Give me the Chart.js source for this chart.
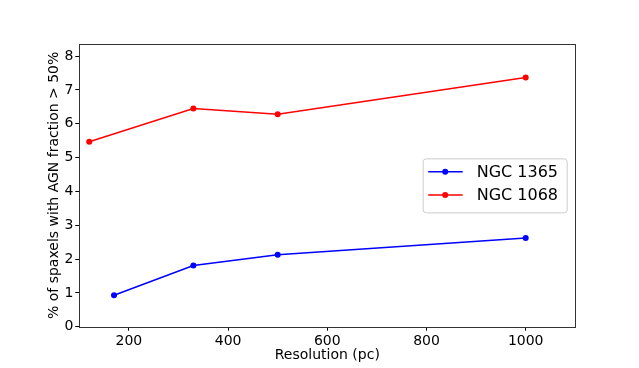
<!DOCTYPE html>
<html lang="en">
<head>
  <meta charset="UTF-8">
  <title>AGN fraction vs resolution</title>
  <script src="https://cdn.jsdelivr.net/npm/chart.js"></script>
  <style>
    html, body { margin: 0; padding: 0; background: #fff; }
    #wrap { width: 639px; height: 368px; }
  </style>
</head>
<body>
  <div id="wrap"><canvas id="chart" width="639" height="368"></canvas></div>

  <script>
    // data
    const ngc1365Res = [170, 330, 500, 1000];
    const ngc1365Pct = [0.93, 1.81, 2.13, 2.62];
    const ngc1068Res = [120, 330, 500, 1000];
    const ngc1068Pct = [5.47, 6.45, 6.28, 7.37];

    const xTicks = [200, 400, 600, 800, 1000];
    const yTicks = [0, 1, 2, 3, 4, 5, 6, 7, 8];

    const FONT = "'DejaVu Sans', sans-serif";

    function toPoints(xs, ys) {
      return xs.map((x, i) => ({ x: x, y: ys[i] }));
    }

    // frame around the plot area + matplotlib style legend at center right
    const framePlugin = {
      id: "frame",
      afterDatasetsDraw(chart) {
        const { ctx, chartArea: a } = chart;
        ctx.save();
        ctx.strokeStyle = "#333";
        ctx.lineWidth = 1;
        ctx.strokeRect(Math.round(a.left) + 0.5, Math.round(a.top) + 0.5,
          Math.round(a.right - a.left), Math.round(a.bottom - a.top));

        // legend
        const sets = chart.data.datasets;
        const w = 144, h = 54;
        const x0 = a.right - 8.6 - w;
        const y0 = (a.top + a.bottom) / 2 - h / 2;
        ctx.fillStyle = "rgba(255,255,255,0.8)";
        ctx.strokeStyle = "#cccccc";
        ctx.beginPath();
        ctx.roundRect(x0 + 0.5, y0 + 0.5, w, h, 3);
        ctx.fill();
        ctx.stroke();
        ctx.font = "16px " + FONT;
        ctx.textBaseline = "middle";
        sets.forEach((ds, i) => {
          const cy = y0 + 13.4 + i * 23.3;
          ctx.strokeStyle = ds.borderColor;
          ctx.lineWidth = 1.5;
          ctx.beginPath();
          ctx.moveTo(x0 + 5.5, cy);
          ctx.lineTo(x0 + 40, cy);
          ctx.stroke();
          ctx.fillStyle = ds.borderColor;
          ctx.beginPath();
          ctx.arc(x0 + 22.5, cy, 3, 0, Math.PI * 2);
          ctx.fill();
          ctx.fillStyle = "#000";
          ctx.fillText(ds.label, x0 + 54, cy + 1);
        });
        ctx.restore();
      }
    };

    new Chart(document.getElementById("chart"), {
      type: "line",
      data: {
        datasets: [
          {
            label: "NGC 1365",
            data: toPoints(ngc1365Res, ngc1365Pct),
            borderColor: "#0000ff",
            backgroundColor: "#0000ff",
            borderWidth: 1.5,
            pointRadius: 3,
            pointBorderWidth: 0,
            tension: 0
          },
          {
            label: "NGC 1068",
            data: toPoints(ngc1068Res, ngc1068Pct),
            borderColor: "#ff0000",
            backgroundColor: "#ff0000",
            borderWidth: 1.5,
            pointRadius: 3,
            pointBorderWidth: 0,
            tension: 0
          }
        ]
      },
      options: {
        responsive: false,
        animation: false,
        layout: { padding: { left: 0, right: 63.7, top: 44, bottom: 0 } },
        plugins: {
          legend: { display: false },
          tooltip: { enabled: false }
        },
        scales: {
          x: {
            type: "linear",
            min: 100,
            max: 1100,
            afterBuildTicks: (s) => { s.ticks = xTicks.map(v => ({ value: v })); },
            afterFit: (s) => { s.height = 41.3; },
            grid: { drawOnChartArea: false, drawTicks: true, tickLength: 4, color: "#000" },
            border: { display: false },
            ticks: {
              color: "#000", font: { family: FONT, size: 14 }, padding: 2, maxRotation: 0,
              callback: (v) => String(v)
            },
            title: {
              display: true,
              text: "Resolution (pc)",
              color: "#000",
              font: { family: FONT, size: 14 },
              padding: { top: 0, bottom: 4 }
            }
          },
          y: {
            type: "linear",
            min: 0,
            max: 8.36,
            afterBuildTicks: (s) => { s.ticks = yTicks.map(v => ({ value: v })); },
            afterFit: (s) => { s.width = 79.3; },
            grid: { drawOnChartArea: false, drawTicks: true, tickLength: 4, color: "#000" },
            border: { display: false },
            ticks: {
              color: "#000", font: { family: FONT, size: 14 }, padding: 2,
              callback: (v) => String(v)
            },
            title: {
              display: true,
              text: "% of spaxels with AGN fraction > 50%",
              color: "#000",
              font: { family: FONT, size: 14 },
              padding: { top: 46, bottom: 0 }
            }
          }
        }
      },
      plugins: [framePlugin]
    });
  </script>
</body>
</html>
